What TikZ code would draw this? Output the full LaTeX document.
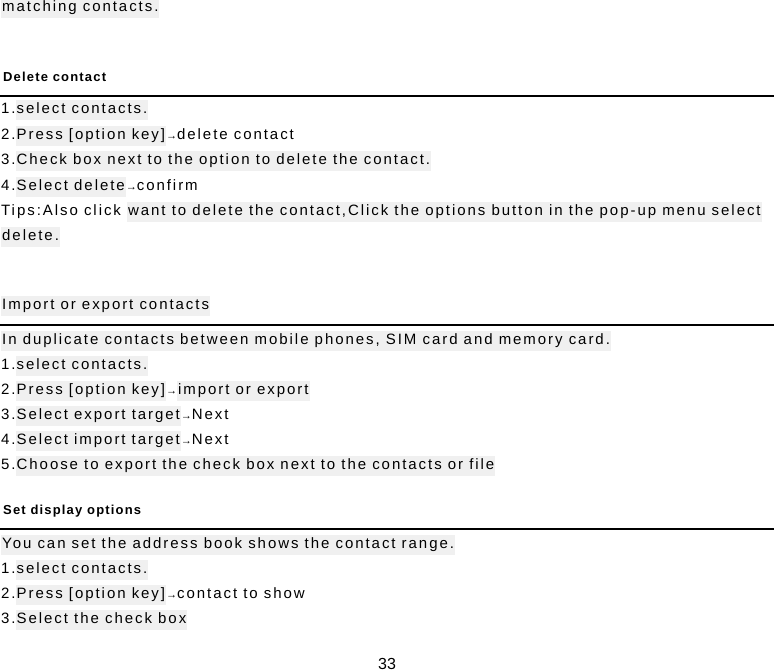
\documentclass[tikz,border=0pt]{standalone}
\usepackage{fontspec}
\setmainfont{Liberation Sans}
\newfontfamily\spaced[LetterSpace=13]{Liberation Sans}
\newfontfamily\hspaced[LetterSpace=9]{Liberation Sans}
\definecolor{hl}{HTML}{F0F0F0}
\newcommand{\hlx}[1]{{\setlength{\fboxsep}{1pt}\colorbox{hl}{\strut #1}}}
\newcommand{\arr}{{\fontsize{11}{12}\selectfont →}}
\begin{document}
\begin{tikzpicture}[x=1pt,y=-1pt,
  ln/.style={anchor=west,inner sep=0pt,font=\spaced\fontsize{15}{18}\selectfont},
  hd/.style={anchor=west,inner sep=0pt,font=\hspaced\fontsize{13}{15}\selectfont\bfseries},
  rl/.style={line width=1.6pt}]
\useasboundingbox (0,0) rectangle (774,672);
\node[ln] (t0) at (1,8) {\hlx{matching contacts.}};
\node[hd] (h1) at (3,77) {Delete contact};
\coordinate (r1a) at (0,96); \coordinate (r1b) at (774,96);
\draw[rl] (r1a) -- (r1b);
\node[ln] (a1) at (1,110) {1.\hlx{select contacts.}};
\node[ln] (a2) at (1,136) {2.\hlx{Press [option key]}\arr delete contact};
\node[ln] (a3) at (1,161) {3.\hlx{Check box next to the option to delete the contact.}};
\node[ln] (a4) at (1,187) {4.\hlx{Select delete}\arr confirm};
\node[ln] (a5) at (1,212) {Tips:Also click \hlx{want to delete the contact,Click the options button in the pop-up menu select}};
\node[ln] (a6) at (1,237) {\hlx{delete.}};
\node[ln] (h2) at (1,306) {\hlx{Import or export contacts}};
\coordinate (r2a) at (0,325); \coordinate (r2b) at (774,325);
\draw[rl] (r2a) -- (r2b);
\node[ln] (b0) at (1,341) {\hlx{In duplicate contacts between mobile phones, SIM card and memory card.}};
\node[ln] (b1) at (1,366) {1.\hlx{select contacts.}};
\node[ln] (b2) at (1,391) {2.\hlx{Press [option key]}\arr\hlx{import or export}};
\node[ln] (b3) at (1,416) {3.\hlx{Select export target}\arr Next};
\node[ln] (b4) at (1,441) {4.\hlx{Select import target}\arr Next};
\node[ln] (b5) at (1,466) {5.\hlx{Choose to export the check box next to the contacts or file}};
\node[hd] (h3) at (3,511) {Set display options};
\coordinate (r3a) at (0,529); \coordinate (r3b) at (774,529);
\draw[rl] (r3a) -- (r3b);
\node[ln] (c0) at (1,545) {\hlx{You can set the address book shows the contact range.}};
\node[ln] (c1) at (1,570) {1.\hlx{select contacts.}};
\node[ln] (c2) at (1,595) {2.\hlx{Press [option key]}\arr contact to show};
\node[ln] (c3) at (1,620) {3.\hlx{Select the check box}};
\node[anchor=center,inner sep=0pt,font=\fontsize{16}{18}\selectfont] (pg) at (387,664) {33};
\end{tikzpicture}
\end{document}
